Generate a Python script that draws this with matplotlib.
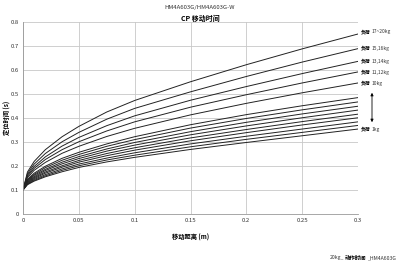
import matplotlib
matplotlib.use("Agg")
import matplotlib.pyplot as plt

plt.rcParams['font.family'] = ['Noto Sans CJK SC', 'DejaVu Sans']

distance = [0, 0.004, 0.01, 0.02, 0.035, 0.05, 0.075, 0.1, 0.15, 0.2, 0.25, 0.3]

load_1kg = [0.1, 0.122, 0.137, 0.155, 0.176, 0.194, 0.217, 0.236, 0.269, 0.298, 0.326, 0.354]
load_2kg = [0.1, 0.124, 0.140, 0.159, 0.182, 0.201, 0.225, 0.245, 0.280, 0.311, 0.340, 0.369]
load_3kg = [0.1, 0.126, 0.144, 0.164, 0.188, 0.208, 0.233, 0.255, 0.292, 0.324, 0.354, 0.384]
load_4kg = [0.1, 0.129, 0.148, 0.170, 0.195, 0.216, 0.243, 0.266, 0.305, 0.339, 0.371, 0.401]
load_5kg = [0.1, 0.132, 0.152, 0.175, 0.201, 0.223, 0.252, 0.276, 0.317, 0.352, 0.385, 0.416]
load_6kg = [0.1, 0.135, 0.156, 0.181, 0.209, 0.231, 0.262, 0.287, 0.330, 0.367, 0.401, 0.433]
load_7kg = [0.1, 0.138, 0.161, 0.186, 0.216, 0.239, 0.271, 0.298, 0.343, 0.382, 0.417, 0.449]
load_8kg = [0.1, 0.141, 0.165, 0.193, 0.224, 0.248, 0.282, 0.310, 0.358, 0.398, 0.434, 0.467]
load_9kg = [0.1, 0.144, 0.170, 0.199, 0.232, 0.257, 0.292, 0.322, 0.372, 0.414, 0.451, 0.485]
load_10kg = [0.1, 0.151, 0.182, 0.215, 0.253, 0.282, 0.323, 0.357, 0.413, 0.461, 0.505, 0.546]
load_11_12kg = [0.1, 0.157, 0.190, 0.227, 0.268, 0.301, 0.346, 0.384, 0.445, 0.497, 0.546, 0.592]
load_13_14kg = [0.1, 0.162, 0.198, 0.238, 0.283, 0.319, 0.368, 0.409, 0.474, 0.531, 0.585, 0.636]
load_15_16kg = [0.1, 0.168, 0.208, 0.252, 0.301, 0.340, 0.395, 0.440, 0.509, 0.573, 0.633, 0.689]
load_17_20kg = [0.1, 0.175, 0.219, 0.268, 0.322, 0.365, 0.425, 0.473, 0.551, 0.622, 0.688, 0.750]

series = [load_1kg, load_2kg, load_3kg, load_4kg, load_5kg, load_6kg, load_7kg,
          load_8kg, load_9kg, load_10kg, load_11_12kg, load_13_14kg,
          load_15_16kg, load_17_20kg]

label_loads = ["17~20kg", "15,16kg", "13,14kg", "11,12kg", "10kg", "1kg"]

xticks = [0, 0.05, 0.1, 0.15, 0.2, 0.25, 0.3]
xticklabels = ["0", "0.05", "0.1", "0.15", "0.2", "0.25", "0.3"]
yticks = [0, 0.1, 0.2, 0.3, 0.4, 0.5, 0.6, 0.7, 0.8]
yticklabels = ["0", "0.1", "0.2", "0.3", "0.4", "0.5", "0.6", "0.7", "0.8"]

W, H = 400, 267
fig = plt.figure(figsize=(4, 2.67), dpi=100)
ax = fig.add_axes([0.0575, 0.1985, 0.8375, 0.7191])

for s in series:
    ax.plot(distance, s, color='#222222', lw=0.7)

ax.set_xlim(0, 0.3)
ax.set_ylim(0, 0.8)
ax.set_xticks(xticks)
ax.set_xticklabels(xticklabels)
ax.set_yticks(yticks)
ax.set_yticklabels(yticklabels)
ax.tick_params(length=0, labelsize=4.3, colors='#333333', pad=3)
ax.grid(True, color='#c8c8c8', lw=0.6)
ax.set_axisbelow(True)
for sp in ['top', 'right']:
    ax.spines[sp].set_visible(False)
for sp in ['left', 'bottom']:
    ax.spines[sp].set_color('#999999')
    ax.spines[sp].set_linewidth(0.6)

ax.set_xlabel("移动距离 (m)", fontsize=4.5, fontweight='bold')
ax.xaxis.set_label_coords(0.5, -0.105)
ax.set_ylabel("定位时间 (s)", fontsize=4.5, fontweight='bold')
ax.yaxis.set_label_coords(-0.037, 0.5)

fig.text(0.5, 0.972, "HM4A603G/HM4A603G-W", ha='center', va='center', fontsize=4.3, color='#333333')
fig.text(0.5, 0.93, "CP 移动时间", ha='center', va='center', fontsize=5, fontweight='bold')

renderer = fig.canvas.get_renderer()


def text_run(x_px, y_px, parts, gap=1.0):
    """Place text pieces one after another starting at x_px (pixels)."""
    x = x_px
    for s, kw in parts:
        t = fig.text(x / W, 1 - y_px / H, s, ha='left', va='center', **kw)
        bb = t.get_window_extent(renderer=renderer)
        x += bb.width + gap
    return x


bold_kw = dict(fontsize=3.5, fontweight='bold', color='black')
norm_kw = dict(fontsize=3.5, color='#333333')

label_y_px = [32, 48, 61, 72, 83, 129]
for name, yp in zip(label_loads, label_y_px):
    text_run(361, yp, [("负荷", bold_kw), (name, norm_kw)], gap=1.2)

fig.patches.append(matplotlib.patches.FancyArrowPatch(
    (372 / W, 1 - 90 / H), (372 / W, 1 - 125 / H), transform=fig.transFigure,
    arrowstyle='<|-|>', mutation_scale=4, lw=0.6, color='black'))

text_run(330, 258, [("20kg_", dict(fontsize=3.7, color='#333333')),
                    ("动作时间", dict(fontsize=3.9, fontweight='bold', color='black')),
                    ("_HM4A603G", dict(fontsize=3.7, color='#333333'))], gap=0.8)

fig.savefig("out.png", dpi=100)
